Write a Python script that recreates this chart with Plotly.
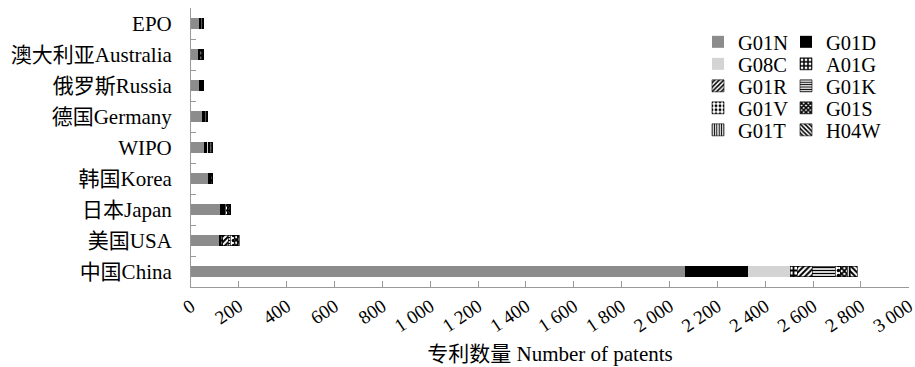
import plotly.graph_objects as go

# Patent offices, listed bottom-to-top on the category axis
offices = ["中国China", "美国USA", "日本Japan", "韩国Korea", "WIPO",
           "德国Germany", "俄罗斯Russia", "澳大利亚Australia", "EPO"]

# Patent counts per IPC class for each office
g01n = [2066, 115, 122, 71, 53, 46, 35, 29, 32]
g01d = [263, 12, 22, 12, 18, 14, 15, 10, 12]
g08c = [176, 0, 2, 0, 2, 1, 0, 0, 1]
a01g = [29, 6, 5, 0, 4, 2, 0, 6, 3]
g01r = [63, 22, 3, 0, 2, 0, 0, 3, 0]
g01k = [96, 8, 4, 2, 2, 2, 1, 2, 1]
g01v = [21, 18, 4, 0, 5, 4, 0, 3, 4]
g01s = [29, 14, 3, 3, 2, 2, 2, 0, 0]
g01t = [13, 2, 0, 0, 0, 0, 0, 0, 0]
h04w = [29, 5, 0, 0, 0, 0, 0, 0, 0]

x_ticks = list(range(0, 3001, 200))
x_tick_labels = ["0", "200", "400", "600", "800", "1 000", "1 200", "1 400",
                 "1 600", "1 800", "2 000", "2 200", "2 400", "2 600",
                 "2 800", "3 000"]

FONT = "Liberation Serif, Noto Sans CJK SC"
W, H = 915, 367

# (name, values, fill colour, pattern, legend column, legend row)
series = [
    ("G01N", g01n, "#8c8c8c", None, 0, 0),
    ("G01D", g01d, "#000000", None, 1, 0),
    ("G08C", g08c, "#d4d4d4", None, 0, 1),
    ("A01G", a01g, "#ffffff", dict(shape="+", fgcolor="#000000", bgcolor="#ffffff", size=5, solidity=0.6), 1, 1),
    ("G01R", g01r, "#ffffff", dict(shape="/", fgcolor="#000000", bgcolor="#ffffff", size=4, solidity=0.5), 0, 2),
    ("G01K", g01k, "#ffffff", dict(shape="-", fgcolor="#000000", bgcolor="#ffffff", size=3, solidity=0.45), 1, 2),
    ("G01V", g01v, "#ffffff", dict(shape=".", fgcolor="#000000", bgcolor="#ffffff", size=5, solidity=0.4), 0, 3),
    ("G01S", g01s, "#000000", dict(shape="x", fgcolor="#000000", bgcolor="#ffffff", size=4, solidity=0.7), 1, 3),
    ("G01T", g01t, "#ffffff", dict(shape="|", fgcolor="#000000", bgcolor="#ffffff", size=3, solidity=0.45), 0, 4),
    ("H04W", h04w, "#ffffff", dict(shape="\\", fgcolor="#000000", bgcolor="#ffffff", size=4, solidity=0.5), 1, 4),
]

# Legend grid: two columns, five rows (pixel positions inside the page)
col_left_px = [698, 786]
row_center_px = [42, 64, 86, 108, 130]

fig = go.Figure()
legend_layouts = {}
for i, (name, vals, color, pattern, col, row) in enumerate(series):
    marker = dict(color=color, line=dict(width=0))
    if pattern is not None:
        marker["pattern"] = dict(fillmode="replace", **pattern)
        marker["line"] = dict(width=0.6, color="#000000")
    leg_id = "legend" if i == 0 else f"legend{i + 1}"
    fig.add_trace(go.Bar(
        y=offices, x=vals, name=name, orientation="h",
        marker=marker, legend=leg_id, showlegend=True,
    ))
    legend_layouts[leg_id] = dict(
        x=col_left_px[col] / W, y=1 - row_center_px[row] / H,
        xref="container", yref="container",
        xanchor="left", yanchor="middle",
        font=dict(family=FONT, size=20.5, color="#000000"),
        bgcolor="rgba(0,0,0,0)", itemwidth=30, visible=True,
    )

fig.update_layout(
    showlegend=True,
    barmode="stack",
    bargap=0.66,
    width=W, height=H,
    margin=dict(l=191, r=6, t=8, b=80, autoexpand=False),
    paper_bgcolor="#ffffff", plot_bgcolor="#ffffff",
    font=dict(family=FONT, size=19, color="#000000"),
    xaxis=dict(
        range=[0, 3001], tickvals=x_ticks, ticktext=x_tick_labels,
        tickangle=-34, ticks="inside", ticklen=6, tickcolor="#9a9a9a",
        showline=True, linecolor="#9a9a9a", linewidth=1,
        showgrid=False, zeroline=False, ticklabeloverflow="allow",
        tickfont=dict(family=FONT, size=19),
        title=dict(text="专利数量 Number of patents", font=dict(family=FONT, size=21), standoff=10),
    ),
    yaxis=dict(
        categoryorder="array", categoryarray=offices,
        ticks="inside", tickson="boundaries", ticklen=5, tickcolor="#9a9a9a",
        showline=True, linecolor="#9a9a9a", linewidth=1,
        showgrid=False, zeroline=False,
        ticklabelstandoff=14,
        tickfont=dict(family=FONT, size=21),
    ),
    **legend_layouts,
)

fig.write_html("out.html")
